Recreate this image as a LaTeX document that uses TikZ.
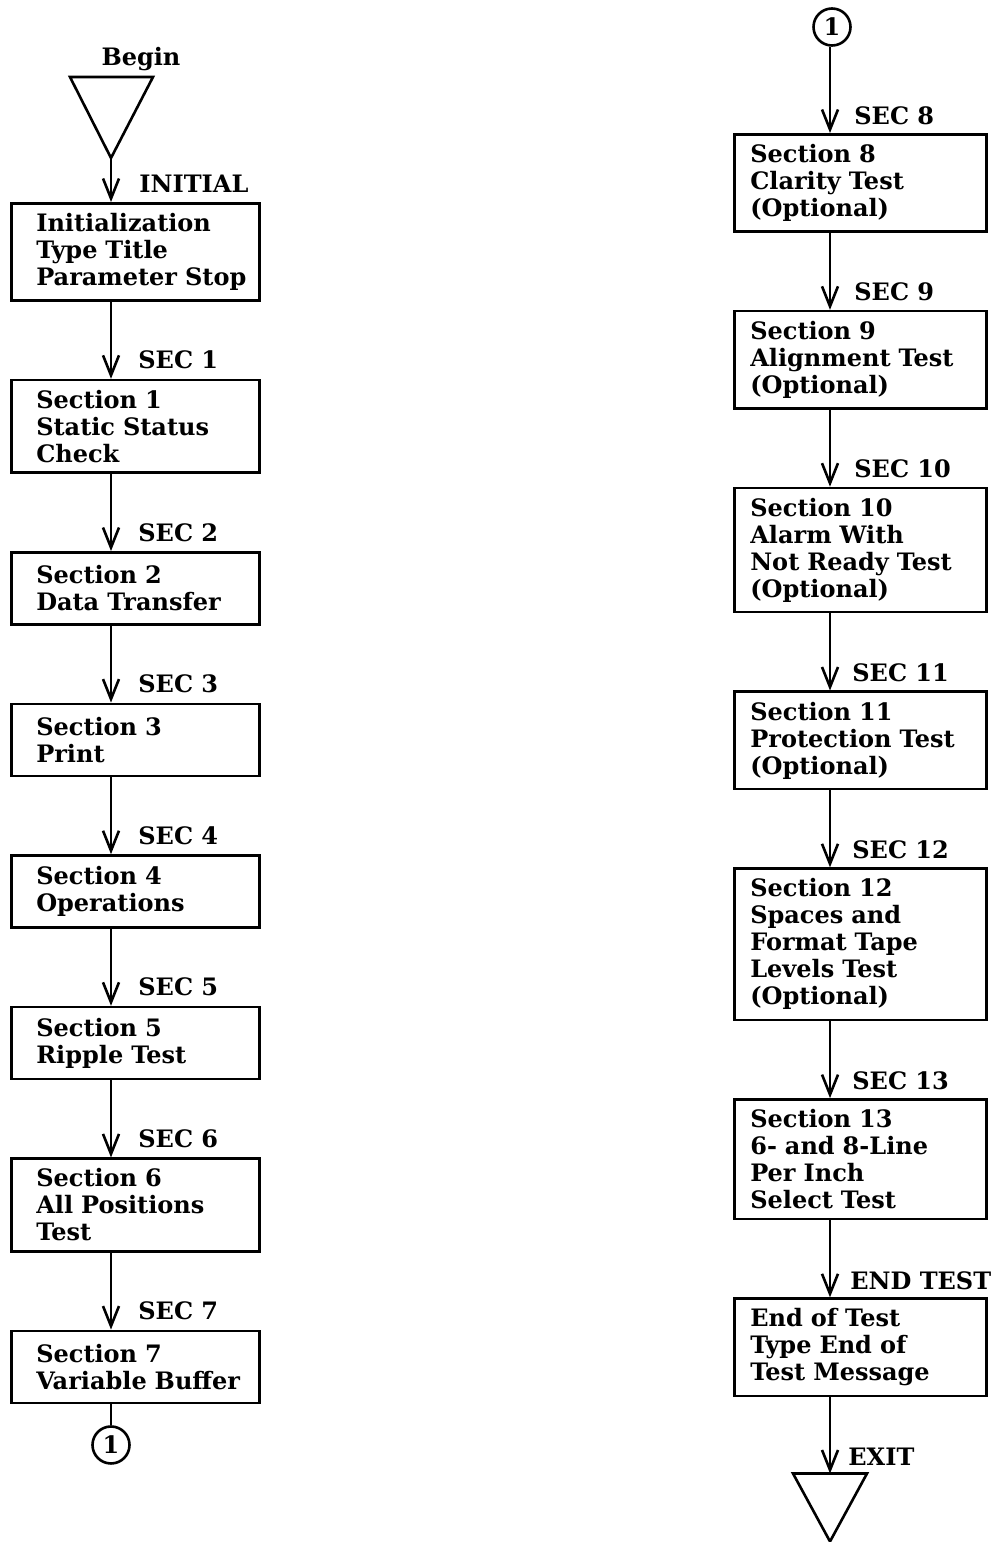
\documentclass[tikz,border=0pt]{standalone}
\usepackage{fontspec}
\setmainfont{DejaVu Serif}
\usepackage{tikz}
\usetikzlibrary{arrows.meta,positioning,calc}
\newcommand{\flowfont}{\fontsize{12pt}{13.5pt}\selectfont\bfseries}
\tikzstyle{block} = [rectangle, draw=black, line width=1.3pt, inner xsep=4pt,
    inner ysep=5pt, minimum height=36pt, font=\flowfont]
\tikzstyle{lblock} = [block, text width=116pt,
    execute at begin node={\raggedright\leftskip=8.5pt}]
\tikzstyle{rblock} = [block, text width=118pt,
    execute at begin node={\raggedright\leftskip=4pt}]
\tikzstyle{arrow} = [line width=1.3pt, -{Straight Barb[length=10pt,width=8pt]}]
\tikzstyle{seclbl} = [font=\flowfont, anchor=base west, inner sep=0pt]
\tikzstyle{conn} = [circle, draw=black, line width=1.3pt, minimum size=18.5pt,
    inner sep=0pt, font=\flowfont]

\begin{document}
\begin{tikzpicture}[node distance=38.5pt]
\useasboundingbox (0,0) rectangle (501.5pt,-771pt);

% ── Begin ────
\coordinate (lspine) at (55.5pt,0);
\coordinate (begintip) at (55.5pt,-79pt);
\draw[line width=1.3pt, line join=miter] (35pt,-38.5pt) -- (76.5pt,-38.5pt) -- (begintip) -- cycle;
\node[font=\flowfont, anchor=base] (begin) at (70.5pt,-32.5pt) {Begin};

% ── Left column ────
\node[lblock, anchor=north west] (init) at (5pt,-101pt) {Initialization\\Type Title\\Parameter Stop};
\node[lblock, below=of init.south west, anchor=north west] (sec1) {Section 1\\Static Status\\Check};
\node[lblock, below=of sec1.south west, anchor=north west] (sec2) {Section 2\\Data Transfer};
\node[lblock, below=of sec2.south west, anchor=north west] (sec3) {Section 3\\Print};
\node[lblock, below=of sec3.south west, anchor=north west] (sec4) {Section 4\\Operations};
\node[lblock, below=of sec4.south west, anchor=north west] (sec5) {Section 5\\Ripple Test};
\node[lblock, below=of sec5.south west, anchor=north west] (sec6) {Section 6\\All Positions\\Test};
\node[lblock, below=of sec6.south west, anchor=north west] (sec7) {Section 7\\Variable Buffer};
\node[conn, anchor=north] (conA) at ([yshift=-10.5pt]sec7.south -| lspine) {1};

% ── Right column ────
\coordinate (rspine) at (415pt,0);
\node[conn] (conB) at (416pt,-13.5pt) {1};
\node[rblock, anchor=north west] (sec8) at (366.5pt,-66.5pt) {Section 8\\Clarity Test\\(Optional)};
\node[rblock, below=of sec8.south west, anchor=north west] (sec9) {Section 9\\Alignment Test\\(Optional)};
\node[rblock, below=of sec9.south west, anchor=north west] (sec10) {Section 10\\Alarm With\\Not Ready Test\\(Optional)};
\node[rblock, below=of sec10.south west, anchor=north west] (sec11) {Section 11\\Protection Test\\(Optional)};
\node[rblock, below=of sec11.south west, anchor=north west] (sec12) {Section 12\\Spaces and\\Format Tape\\Levels Test\\(Optional)};
\node[rblock, below=of sec12.south west, anchor=north west] (sec13) {Section 13\\6- and 8-Line\\Per Inch\\Select Test};
\node[rblock, below=of sec13.south west, anchor=north west] (endtest) {End of Test\\Type End of\\Test Message};

% ── Exit ────
\coordinate (exittop) at ([yshift=-38pt]endtest.south -| rspine);
\draw[line width=1.3pt, line join=miter] ([xshift=-18.5pt]exittop) -- ([xshift=18.5pt]exittop) -- ([yshift=-34pt]exittop) -- cycle;

% ── Arrows ────
\draw[arrow] (begintip) -- (init.north -| lspine);
\draw[arrow] (init.south -| lspine) -- (sec1.north -| lspine);
\draw[arrow] (sec1.south -| lspine) -- (sec2.north -| lspine);
\draw[arrow] (sec2.south -| lspine) -- (sec3.north -| lspine);
\draw[arrow] (sec3.south -| lspine) -- (sec4.north -| lspine);
\draw[arrow] (sec4.south -| lspine) -- (sec5.north -| lspine);
\draw[arrow] (sec5.south -| lspine) -- (sec6.north -| lspine);
\draw[arrow] (sec6.south -| lspine) -- (sec7.north -| lspine);
\draw[line width=1.3pt] (sec7.south -| lspine) -- (conA);
\draw[arrow] (conB.south -| rspine) -- (sec8.north -| rspine);
\draw[arrow] (sec8.south -| rspine) -- (sec9.north -| rspine);
\draw[arrow] (sec9.south -| rspine) -- (sec10.north -| rspine);
\draw[arrow] (sec10.south -| rspine) -- (sec11.north -| rspine);
\draw[arrow] (sec11.south -| rspine) -- (sec12.north -| rspine);
\draw[arrow] (sec12.south -| rspine) -- (sec13.north -| rspine);
\draw[arrow] (sec13.south -| rspine) -- (endtest.north -| rspine);
\draw[arrow] (endtest.south -| rspine) -- (exittop);

% ── Section labels ────
\node[seclbl] at ([xshift=14pt,yshift=5pt]init.north -| lspine) {INITIAL};
\node[seclbl] at ([xshift=13.5pt,yshift=5pt]sec1.north -| lspine) {SEC 1};
\node[seclbl] at ([xshift=13.5pt,yshift=5pt]sec2.north -| lspine) {SEC 2};
\node[seclbl] at ([xshift=13.5pt,yshift=5pt]sec3.north -| lspine) {SEC 3};
\node[seclbl] at ([xshift=13.5pt,yshift=5pt]sec4.north -| lspine) {SEC 4};
\node[seclbl] at ([xshift=13.5pt,yshift=5pt]sec5.north -| lspine) {SEC 5};
\node[seclbl] at ([xshift=13.5pt,yshift=5pt]sec6.north -| lspine) {SEC 6};
\node[seclbl] at ([xshift=13.5pt,yshift=5pt]sec7.north -| lspine) {SEC 7};
\node[seclbl] at ([xshift=12pt,yshift=4.5pt]sec8.north -| rspine) {SEC 8};
\node[seclbl] at ([xshift=12pt,yshift=4.5pt]sec9.north -| rspine) {SEC 9};
\node[seclbl] at ([xshift=12pt,yshift=4.5pt]sec10.north -| rspine) {SEC 10};
\node[seclbl] at ([xshift=11pt,yshift=4.5pt]sec11.north -| rspine) {SEC 11};
\node[seclbl] at ([xshift=11pt,yshift=4.5pt]sec12.north -| rspine) {SEC 12};
\node[seclbl] at ([xshift=11pt,yshift=4.5pt]sec13.north -| rspine) {SEC 13};
\node[seclbl] at ([xshift=10pt,yshift=4pt]endtest.north -| rspine) {END TEST};
\node[seclbl] at ([xshift=9pt,yshift=4pt]exittop) {EXIT};

\end{tikzpicture}
\end{document}
